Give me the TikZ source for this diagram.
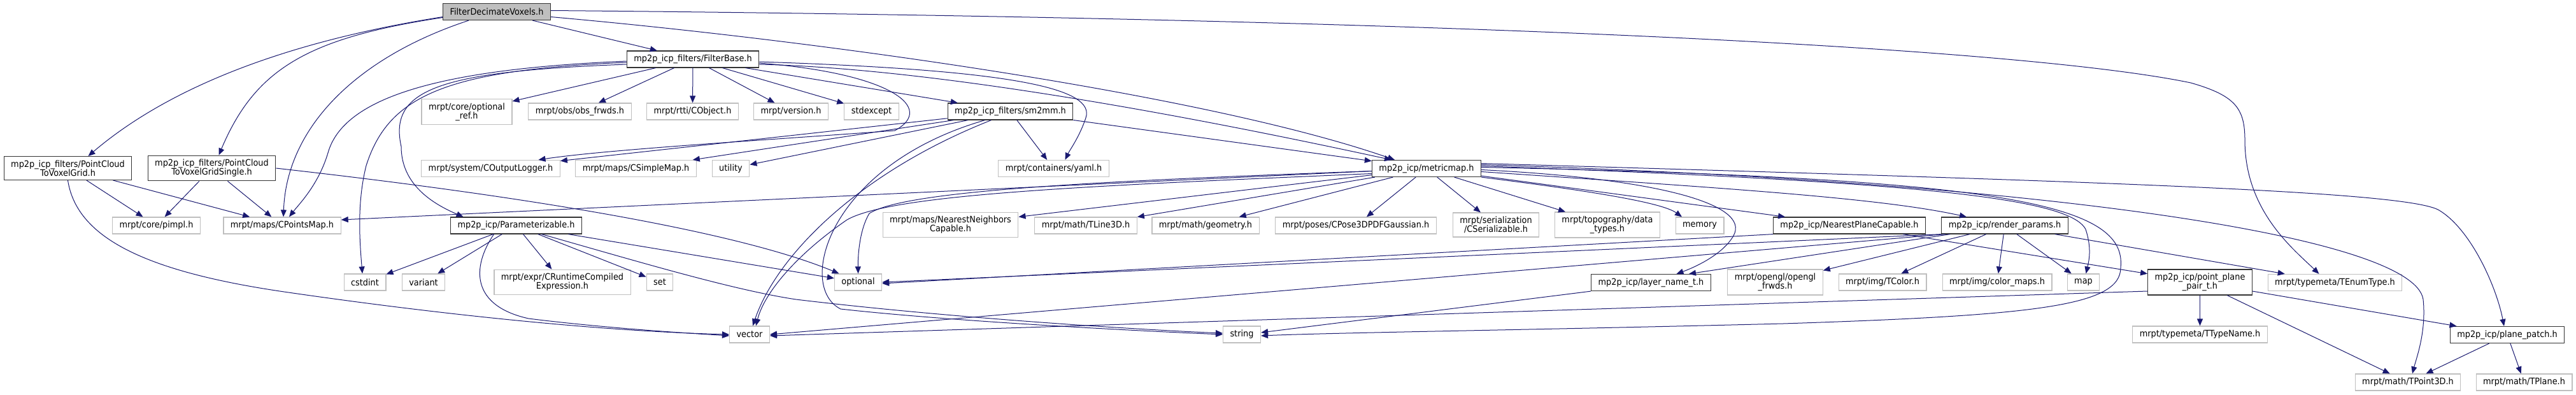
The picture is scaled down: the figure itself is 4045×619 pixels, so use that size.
\documentclass[tikz,border=0pt]{standalone}
\usepackage{fontspec}
\setmainfont{DejaVu Sans}[FakeStretch=0.92]
\usetikzlibrary{arrows.meta}
\definecolor{edgeblue}{HTML}{191970}
\definecolor{boxgray}{HTML}{BFBFBF}
\tikzset{
  file/.style={draw=black!80, fill=white, line width=1.2pt, minimum height=26pt,
    inner xsep=11pt, inner ysep=6pt, align=center, font=\fontsize{14}{14}\selectfont},
  sysfile/.style={file, draw=boxgray},
  rootfile/.style={file, fill=boxgray},
  dep/.style={draw=edgeblue, line width=1pt, -{Triangle[length=11pt,width=9pt]}}
}
\begin{document}
\begin{tikzpicture}[x=1pt,y=-1pt]
        % Background
        \fill[white] (0,0) rectangle (4045,619);
        \useasboundingbox (0,0) rectangle (4045,619);

        % Top file
        \node[rootfile] (root) at (780,18.5) {FilterDecimateVoxels.h};
        \node[file] (filterbase) at (1088,93) {mp2p\_icp\_filters/FilterBase.h};

        % Row of FilterBase includes
        \node[sysfile] (optionalref) at (733,175.5) {mrpt/core/optional\\\_ref.h};
        \node[sysfile] (obsfrwds) at (910.5,175) {mrpt/obs/obs\_frwds.h};
        \node[sysfile] (cobject) at (1087.5,175) {mrpt/rtti/CObject.h};
        \node[sysfile] (version) at (1242,175) {mrpt/version.h};
        \node[sysfile] (stdexcept) at (1368.5,175) {stdexcept};
        \node[file] (sm2mm) at (1586.5,175) {mp2p\_icp\_filters/sm2mm.h};

        % Voxel grids, loggers, metric map
        \node[file] (pcgrid) at (106.5,264) {mp2p\_icp\_filters/PointCloud\\ToVoxelGrid.h};
        \node[file] (pcsingle) at (332.5,264) {mp2p\_icp\_filters/PointCloud\\ToVoxelGridSingle.h};
        \node[sysfile] (logger) at (770.5,264.5) {mrpt/system/COutputLogger.h};
        \node[sysfile] (simplemap) at (998.5,264.5) {mrpt/maps/CSimpleMap.h};
        \node[sysfile] (utility) at (1147.5,264.5) {utility};
        \node[sysfile] (yaml) at (1654.5,264.5) {mrpt/containers/yaml.h};
        \node[file] (metricmap) at (2240,264.5) {mp2p\_icp/metricmap.h};

        % Middle row
        \node[sysfile] (pimpl) at (245.5,354) {mrpt/core/pimpl.h};
        \node[sysfile] (pointsmap) at (443,354) {mrpt/maps/CPointsMap.h};
        \node[file] (param) at (810.5,354) {mp2p\_icp/Parameterizable.h};
        \node[sysfile] (nncapable) at (1492.5,353) {mrpt/maps/NearestNeighbors\\Capable.h};
        \node[sysfile] (tline) at (1705,354) {mrpt/math/TLine3D.h};
        \node[sysfile] (geometry) at (1893,354) {mrpt/math/geometry.h};
        \node[sysfile] (posepdf) at (2129,354) {mrpt/poses/CPose3DPDFGaussian.h};
        \node[sysfile] (serializable) at (2349,353) {mrpt/serialization\\/CSerializable.h};
        \node[sysfile] (topography) at (2524,353) {mrpt/topography/data\\\_types.h};
        \node[sysfile] (memory) at (2669,354) {memory};
        \node[file] (planecapable) at (2904,354) {mp2p\_icp/NearestPlaneCapable.h};
        \node[file] (renderparams) at (3148,354) {mp2p\_icp/render\_params.h};

        % Lower row
        \node[sysfile] (cstdint) at (573,443) {cstdint};
        \node[sysfile] (variant) at (665,443) {variant};
        \node[sysfile] (runtimeexpr) at (883,443) {mrpt/expr/CRuntimeCompiled\\Expression.h};
        \node[sysfile] (set) at (1036,443) {set};
        \node[sysfile] (optional) at (1347.5,443) {optional};
        \node[file] (layername) at (2592.5,443.5) {mp2p\_icp/layer\_name\_t.h};
        \node[sysfile] (openglfrwds) at (2787.5,443) {mrpt/opengl/opengl\\\_frwds.h};
        \node[sysfile] (tcolor) at (2956,443) {mrpt/img/TColor.h};
        \node[sysfile] (colormaps) at (3136,443) {mrpt/img/color\_maps.h};
        \node[sysfile] (map) at (3271.5,443) {map};
        \node[file] (pairt) at (3454.5,443) {mp2p\_icp/point\_plane\\\_pair\_t.h};
        \node[sysfile] (enumtype) at (3666.5,443.5) {mrpt/typemeta/TEnumType.h};

        % Bottom rows
        \node[sysfile] (vector) at (1177,525) {vector};
        \node[sysfile] (string) at (1950,525) {string};
        \node[sysfile] (typename) at (3454.5,525) {mrpt/typemeta/TTypeName.h};
        \node[file] (planepatch) at (3937,525.5) {mp2p\_icp/plane\_patch.h};
        \node[sysfile] (tpoint) at (3781,600) {mrpt/math/TPoint3D.h};
        \node[sysfile] (tplane) at (3963.5,600) {mrpt/math/TPlane.h};

        % Straight includes
        \foreach \a/\b in {root/filterbase,
            filterbase/optionalref, filterbase/obsfrwds, filterbase/cobject,
            filterbase/version, filterbase/stdexcept, filterbase/sm2mm,
            sm2mm/logger, sm2mm/simplemap, sm2mm/utility, sm2mm/yaml, sm2mm/metricmap,
            pcgrid/pimpl, pcgrid/pointsmap, pcsingle/pimpl, pcsingle/pointsmap,
            param/cstdint, param/variant, param/runtimeexpr, param/set, param/optional,
            metricmap/nncapable, metricmap/tline, metricmap/geometry, metricmap/posepdf,
            metricmap/serializable, metricmap/topography, metricmap/planecapable,
            planecapable/pairt,
            renderparams/openglfrwds, renderparams/tcolor, renderparams/colormaps,
            renderparams/map, renderparams/enumtype,
            pairt/typename, pairt/tpoint, pairt/planepatch,
            planepatch/tpoint, planepatch/tplane}
          \draw[dep] (\a) -- (\b);

        % Top file, curved includes
        \draw[dep] ([yshift=-8pt]root.west) .. controls (420,70) and (250,150) .. ([xshift=32pt]pcgrid.north);
        \draw[dep] ([yshift=-9pt]root.west) .. controls (480,60) and (400,110) .. ([xshift=11pt]pcsingle.north);
        \draw[dep] ([xshift=-44pt]root.south) .. controls (560,90) and (450,200) .. ([xshift=2pt]pointsmap.north);
        \draw[dep] ([yshift=-8pt]root.east) .. controls (1300,65) and (1900,150) .. ([xshift=-50pt]metricmap.north);
        \draw[dep] ([yshift=2pt]root.east) .. controls (2400,30) and (3200,80) .. (3440,130)
            .. controls (3510,150) and (3525,170) .. (3525,220)
            .. controls (3525,330) and (3600,390) .. ([xshift=-25pt]enumtype.north);

        % FilterBase, curved includes
        \draw[dep] ([yshift=-3pt]filterbase.west) .. controls (700,108) and (540,150) .. (515,240)
            .. controls (500,290) and (470,320) .. ([xshift=11pt]pointsmap.north);
        \draw[dep] ([yshift=-5pt]filterbase.west) .. controls (700,110) and (610,150) .. (575,260)
            .. controls (560,320) and (565,380) .. ([xshift=-4pt]cstdint.north);
        \draw[dep] ([yshift=-8pt]filterbase.west) .. controls (690,112) and (610,140) .. (630,230)
            .. controls (630,290) and (680,320) .. ([xshift=-83pt]param.north);
        \draw[dep] ([yshift=-4pt]filterbase.east) .. controls (1600,110) and (1720,140) .. (1705,185)
            .. controls (1695,215) and (1680,235) .. ([xshift=18pt]yaml.north);
        \draw[dep] ([yshift=-6pt]filterbase.east) .. controls (1400,115) and (1470,170) .. (1405,205)
            .. controls (1200,220) and (950,235) .. ([xshift=75pt]logger.north);
        \draw[dep] ([yshift=-8pt]filterbase.east) .. controls (1500,108) and (1950,200) .. ([xshift=-55pt]metricmap.north);

        % sm2mm, curved includes
        \draw[dep] ([xshift=-30pt]sm2mm.south) .. controls (1350,270) and (1220,400) .. ([xshift=5pt]vector.north);
        \draw[dep] ([xshift=-40pt]sm2mm.south) .. controls (1300,260) and (1250,450) .. (1320,485)
            .. controls (1500,505) and (1800,520) .. (string.west);

        % Voxel grids and Parameterizable, curved includes
        \draw[dep] (pcgrid.south) .. controls (120,370) and (220,425) .. (446,458)
            .. controls (700,495) and (950,520) .. (vector.west);
        \draw[dep] (pcsingle.east) .. controls (800,305) and (1150,360) .. ([xshift=-30pt]optional.north);
        \draw[dep] ([xshift=-35pt]param.south) .. controls (740,420) and (740,480) .. (830,500)
            .. controls (950,515) and (1080,523) .. ([yshift=-2pt]vector.west);
        \draw[dep] ([xshift=40pt]param.south) .. controls (1000,410) and (1150,455) .. (1250,470)
            .. controls (1500,500) and (1800,518) .. ([yshift=2pt]string.west);

        % metricmap, curved includes
        \draw[dep] (metricmap) -- ([yshift=9pt]pointsmap.east);
        \draw[dep] ([yshift=-4pt]metricmap.west) .. controls (1700,285) and (1420,300) .. (1365,335)
            .. controls (1350,360) and (1347,400) .. (optional.north);
        \draw[dep] ([yshift=-8pt]metricmap.west) .. controls (1700,292) and (1400,305) .. (1330,345)
            .. controls (1250,400) and (1200,460) .. ([xshift=10pt]vector.north);
        \draw[dep] (metricmap.south east) .. controls (2500,300) and (2610,318) .. ([xshift=-28pt]memory.north);
        \draw[dep] ([yshift=-5pt]metricmap.east) .. controls (2700,295) and (2950,310) .. ([xshift=-60pt]renderparams.north);
        \draw[dep] ([yshift=-2pt]metricmap.east) .. controls (2600,280) and (2750,320) .. (2722,370)
            .. controls (2705,400) and (2660,420) .. ([xshift=40pt]layername.north);
        \draw[dep] ([yshift=4pt]metricmap.east) .. controls (3000,285) and (3250,310) .. (3275,360)
            .. controls (3285,390) and (3280,410) .. ([xshift=4pt]map.north);
        \draw[dep] ([yshift=2pt]metricmap.east) .. controls (3150,280) and (3340,320) .. (3330,420)
            .. controls (3330,480) and (3200,495) .. (2800,508)
            .. controls (2400,518) and (2100,522) .. ([yshift=-2pt]string.east);
        \draw[dep] ([yshift=6pt]metricmap.east) .. controls (3200,285) and (3790,370) .. (3805,470)
            .. controls (3810,520) and (3795,560) .. ([xshift=7pt]tpoint.north);
        \draw[dep] ([yshift=8pt]metricmap.east) .. controls (3300,285) and (3780,300) .. (3830,330)
            .. controls (3880,360) and (3920,450) .. ([xshift=-5pt]planepatch.north);

        % Long includes to the left
        \draw[dep] (renderparams.south west) -- (optional.east);
        \draw[dep] ([xshift=6pt]renderparams.south west) -- (vector.east);
        \draw[dep] ([xshift=14pt]renderparams.south west) -- ([xshift=-35pt]layername.north east);
        \draw[dep] (planecapable.south west) -- ([yshift=-2pt]optional.east);
        \draw[dep] (layername.south west) -- ([yshift=3pt]string.east);
        \draw[dep] ([yshift=-14pt]pairt.west) -- ([yshift=-2pt]vector.east);
    \end{tikzpicture}
\end{document}
